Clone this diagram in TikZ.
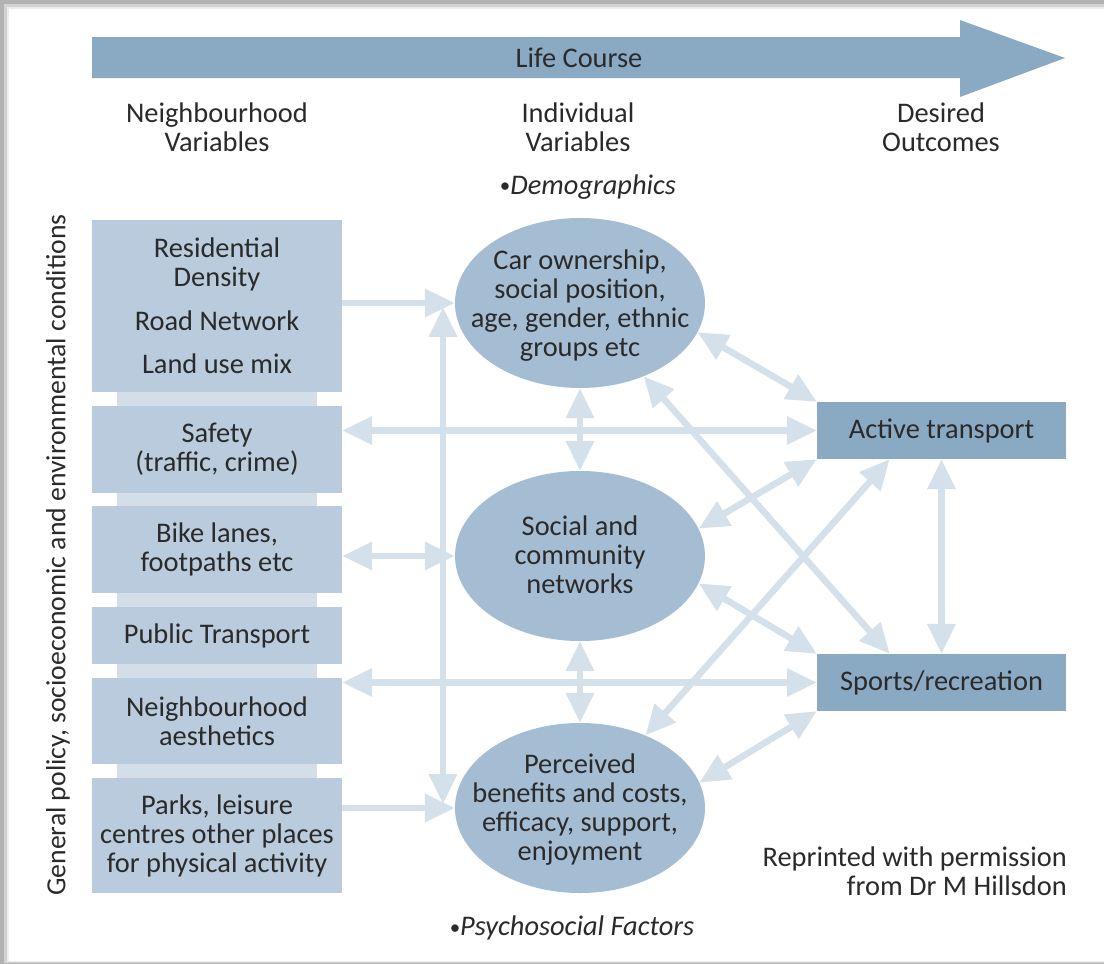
\documentclass[tikz,border=0pt]{standalone}
\usepackage{fontspec}
\setmainfont{Carlito}
\usetikzlibrary{arrows.meta,shapes.geometric}
\definecolor{arrowblue}{HTML}{8AAAC4}
\definecolor{boxblue}{HTML}{B9CBDC}
\definecolor{ellblue}{HTML}{A4BDD3}
\definecolor{conncol}{HTML}{D4E0EA}
\definecolor{stripcol}{HTML}{D3DEE8}
\definecolor{txt}{HTML}{2A2A2A}
\newcommand{\smallbul}{{\fontsize{21}{21}\selectfont\raisebox{1.5pt}{\textbullet}}}
\begin{document}
\begin{tikzpicture}[x=1pt,y=-1pt,
  every node/.style={font=\fontsize{28.4}{29}\selectfont, text=txt},
  leftbox/.style={fill=boxblue, minimum width=250pt, inner sep=0pt, align=center},
  outbox/.style={fill=arrowblue, minimum width=249pt, minimum height=57pt, inner sep=0pt},
  ellnode/.style={ellipse, fill=ellblue, minimum width=250pt, minimum height=170pt, inner sep=0pt},
  elltext/.style={align=center, inner sep=0pt},
  hdr/.style={align=center, inner sep=0pt},
  conn/.style={draw=conncol, line width=6.5pt, {Triangle[length=30pt,width=27pt]}-{Triangle[length=30pt,width=27pt]}},
  conn1/.style={draw=conncol, line width=6.5pt, -{Triangle[length=30pt,width=27pt]}},
]
\useasboundingbox (0,0) rectangle (1104,964);
% frame shadow
\fill[gray!60] (0,0) rectangle (1104,964);
\fill[gray!35] (4,4) rectangle (1104,963);
\fill[gray!15] (7,7) rectangle (1104,962);
\fill[white] (9,9) rectangle (1104,961);

% life course arrow
\fill[arrowblue] (92,37) -- (960,37) -- (960,20) -- (1065,58) -- (960,97) -- (960,78) -- (92,78) -- cycle;
\node[hdr] (life) at (579,58) {Life Course};

% headers
\node[hdr] (h1) at (217,127.5) {Neighbourhood\\Variables};
\node[hdr] (h2) at (578,127.5) {Individual\\Variables};
\node[hdr] (h3) at (941,127.5) {Desired\\Outcomes};
\node[hdr] (demo) at (588,187) {\smallbul\textit{Demographics}};
\node[hdr] (psych) at (572,928) {\smallbul\textit{Psychosocial Factors}};
\node[hdr, align=right, anchor=east] (rep) at (1067,871) {Reprinted with permission\\from Dr M Hillsdon};
\node[hdr, rotate=90, font=\fontsize{27.7}{29}\selectfont] (side) at (58,555) {General policy, socioeconomic and environmental conditions};

% left column
\fill[stripcol] (117,225) rectangle (317,888);
\node[leftbox, minimum height=172pt] (b1) at (217,306) {Residential\\Density\\[15pt]Road Network\\[14pt]Land use mix};
\node[leftbox, minimum height=87pt] (b2) at (217,449.5) {Safety\\(traffic, crime)};
\node[leftbox, minimum height=87pt] (b3) at (217,549.5) {Bike lanes,\\footpaths etc};
\node[leftbox, minimum height=57pt] (b4) at (217,635.5) {Public Transport};
\node[leftbox, minimum height=86pt] (b5) at (217,721) {Neighbourhood\\aesthetics};
\node[leftbox, minimum height=115pt] (b6) at (217,835.5) {Parks, leisure\\centres other places\\for physical activity};

% ellipses
\node[ellnode] (e1) at (580,303) {};
\node[elltext] (e1t) at (580,305.5) {Car ownership,\\social position,\\age, gender, ethnic\\groups etc};
\node[ellnode] (e2) at (580,556) {};
\node[elltext] (e2t) at (580,554.5) {Social and\\community\\networks};
\node[ellnode] (e3) at (580,808) {};
\node[elltext] (e3t) at (580,810) {Perceived\\benefits and costs,\\efficacy, support,\\enjoyment};

% outcomes
\node[outbox] (at) at (941.5,430.5) {Active transport};
\node[outbox] (sp) at (941.5,682.5) {Sports/recreation};

% connectors
\draw[conn1] (e1.west -| b1.east) -- (e1.west);
\draw[conn1] (e3.west -| b6.east) -- (e3.west);
\coordinate (vt) at (443,307);
\coordinate (vb) at (443,804);
\draw[conn] (vt) -- (vb);
\draw[conn] (b2.east |- at.west) -- (at.west);
\draw[conn] (b3.east |- e2.west) -- (e2.west);
\draw[conn] (b5.east |- sp.west) -- (sp.west);
\draw[conn] (e1.south) -- (e2.north);
\draw[conn] (e2.south) -- (e3.north);
\draw[conn] (e1.-14) -- (at.north west);
\draw[conn] (e1.-49) -- (sp.151.6);
\draw[conn] (e2.13) -- (at.south west);
\draw[conn] (e2.-13) -- (sp.north west);
\draw[conn] (e3.48) -- (at.-151.5);
\draw[conn] (e3.12.5) -- (sp.south west);
\draw[conn] (at.south) -- (sp.north);
\end{tikzpicture}
\end{document}
